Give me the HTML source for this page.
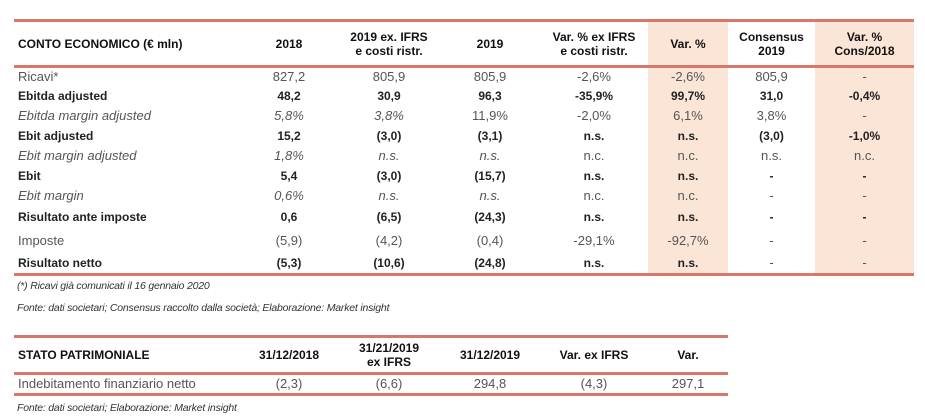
<!DOCTYPE html>
<html><head><meta charset="utf-8"><style>
body{margin:0;width:925px;height:417px;background:#fff;font-family:"Liberation Sans",sans-serif;color:#222;position:relative;overflow:hidden}
table{position:absolute;border-collapse:collapse;table-layout:fixed;font-size:12px}
td{padding:0;text-align:center;white-space:nowrap;line-height:14px}
td.l{text-align:left;padding-left:4px}
.b{font-weight:bold}
.i{font-style:italic}
.n{color:#555;font-size:13px}
tr.h td{font-weight:bold;color:#111;border-top:3px solid #d9776a;border-bottom:3px solid #d9776a}
tr.last td{border-bottom:3px solid #d9776a}
.s{background:#fbe5d6}
.note{position:absolute;left:17px;font-size:10.5px;letter-spacing:-0.2px;font-style:italic;color:#333}
</style></head><body>
<table style="left:14px;top:19px;width:900px">
<colgroup><col style="width:226px"><col style="width:98px"><col style="width:102px"><col style="width:100px"><col style="width:108px"><col style="width:80px"><col style="width:87px"><col style="width:99px"></colgroup>
<tr class="h" style="height:46px"><td class="l">CONTO ECONOMICO (€ mln)</td><td>2018</td><td>2019 ex. IFRS<br>e costi ristr.</td><td>2019</td><td>Var. % ex IFRS<br>e costi ristr.</td><td class="s">Var. %</td><td>Consensus<br>2019</td><td class="s">Var. %<br>Cons/2018</td></tr>
<tr style="height:19px" class="n"><td class="l">Ricavi*</td><td>827,2</td><td>805,9</td><td>805,9</td><td>-2,6%</td><td class="s">-2,6%</td><td>805,9</td><td class="s">-</td></tr>
<tr style="height:20px" class="b"><td class="l">Ebitda adjusted</td><td>48,2</td><td>30,9</td><td>96,3</td><td>-35,9%</td><td class="s">99,7%</td><td>31,0</td><td class="s">-0,4%</td></tr>
<tr style="height:20px" class="n"><td class="l i">Ebitda margin adjusted</td><td class="i">5,8%</td><td class="i">3,8%</td><td>11,9%</td><td>-2,0%</td><td class="s">6,1%</td><td>3,8%</td><td class="s">-</td></tr>
<tr style="height:20px" class="b"><td class="l">Ebit adjusted</td><td>15,2</td><td>(3,0)</td><td>(3,1)</td><td>n.s.</td><td class="s">n.s.</td><td>(3,0)</td><td class="s">-1,0%</td></tr>
<tr style="height:20px" class="n"><td class="l i">Ebit margin adjusted</td><td class="i">1,8%</td><td class="i">n.s.</td><td class="i">n.s.</td><td>n.c.</td><td class="s">n.c.</td><td>n.s.</td><td class="s">n.c.</td></tr>
<tr style="height:20px" class="b"><td class="l">Ebit</td><td>5,4</td><td>(3,0)</td><td>(15,7)</td><td>n.s.</td><td class="s">n.s.</td><td>-</td><td class="s">-</td></tr>
<tr style="height:20px" class="n"><td class="l i">Ebit margin</td><td class="i">0,6%</td><td class="i">n.s.</td><td class="i">n.s.</td><td>n.c.</td><td class="s">n.c.</td><td>-</td><td class="s">-</td></tr>
<tr style="height:23px" class="b"><td class="l">Risultato ante imposte</td><td>0,6</td><td>(6,5)</td><td>(24,3)</td><td>n.s.</td><td class="s">n.s.</td><td>-</td><td class="s">-</td></tr>
<tr style="height:24px" class="n"><td class="l">Imposte</td><td>(5,9)</td><td>(4,2)</td><td>(0,4)</td><td>-29,1%</td><td class="s">-92,7%</td><td>-</td><td class="s">-</td></tr>
<tr style="height:22px" class="b last"><td class="l">Risultato netto</td><td>(5,3)</td><td>(10,6)</td><td>(24,8)</td><td>n.s.</td><td class="s">n.s.</td><td class="n" style="font-weight:normal">-</td><td class="s n" style="font-weight:normal">-</td></tr>
</table>
<div class="note" style="top:280px">(*) Ricavi già comunicati il 16 gennaio 2020</div>
<div class="note" style="top:302px">Fonte: dati societari; Consensus raccolto dalla società; Elaborazione: Market insight</div>
<table style="left:14px;top:335px;width:714px">
<colgroup><col style="width:226px"><col style="width:98px"><col style="width:102px"><col style="width:100px"><col style="width:108px"><col style="width:80px"></colgroup>
<tr class="h" style="height:37px"><td class="l">STATO PATRIMONIALE</td><td>31/12/2018</td><td>31/21/2019<br>ex IFRS</td><td>31/12/2019</td><td>Var. ex IFRS</td><td>Var.</td></tr>
<tr style="height:21px" class="n last"><td class="l">Indebitamento finanziario netto</td><td>(2,3)</td><td>(6,6)</td><td>294,8</td><td>(4,3)</td><td>297,1</td></tr>
</table>
<div class="note" style="top:402px">Fonte: dati societari; Elaborazione: Market insight</div>
</body></html>
